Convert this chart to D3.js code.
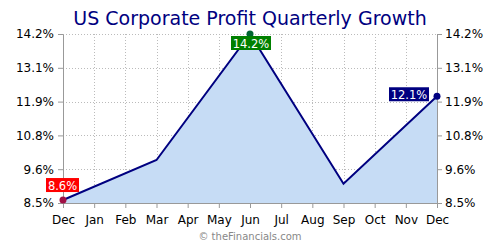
<!DOCTYPE html>
<html>
<head>
<meta charset="utf-8">
<script src="https://cdn.jsdelivr.net/npm/d3@7"></script>
<style>
  body { margin: 0; background: #fff; }
  text { font-family: "DejaVu Sans", Verdana, sans-serif; }
</style>
</head>
<body>
<svg id="chart" width="500" height="250"></svg>
<script>
// data
const months = ["Dec","Jan","Feb","Mar","Apr","May","Jun","Jul","Aug","Sep","Oct","Nov","Dec"];
const pointIdx = [0, 3, 6, 9, 12];
const pointVals = [8.6, 9.95, 14.2, 9.15, 12.1];
const yTicks = [8.5, 9.64, 10.78, 11.92, 13.06, 14.2];
const labelIdx = [0, 2, 4];
const labelColors = ["#ff0000", "#008000", "#000080"];
const markerColors = ["#a01045", "#006633", "#000080"];

const svg = d3.select('#chart');
const plotL = 63, plotR = 437, plotT = 34, plotB = 203;

const x = d3.scaleLinear().domain([0, 12]).range([plotL, plotR]);
const y = d3.scaleLinear().domain([8.5, 14.2]).range([plotB, plotT]);

svg.append('text')
  .attr('x', 250).attr('y', 25)
  .attr('text-anchor', 'middle')
  .attr('font-size', 19)
  .attr('fill', '#000080')
  .text('US Corporate Profit Quarterly Growth');

// grid
const grid = svg.append('g');
grid.selectAll('.hg').data(yTicks.slice(1)).enter().append('line')
  .attr('x1', plotL).attr('x2', plotR)
  .attr('y1', d => Math.round(y(d)) + 0.5).attr('y2', d => Math.round(y(d)) + 0.5)
  .attr('stroke', '#bbb').attr('stroke-dasharray', '1,2');
grid.selectAll('.vg').data(d3.range(1, 12)).enter().append('line')
  .attr('x1', d => Math.round(x(d)) + 0.5).attr('x2', d => Math.round(x(d)) + 0.5)
  .attr('y1', plotT).attr('y2', plotB)
  .attr('stroke', '#bbb').attr('stroke-dasharray', '1,2');

const pts = pointIdx.map((d, i) => [d, pointVals[i]]);

svg.append('path')
  .datum(pts)
  .attr('d', d3.area().x(d => x(d[0])).y0(plotB).y1(d => y(d[1])))
  .attr('fill', '#c6dcf5');

// axes
const fmt = d => d.toFixed(1) + '%';
const axL = svg.append('g').attr('transform', `translate(${plotL},0)`)
  .call(d3.axisLeft(y).tickValues(yTicks).tickFormat(fmt).tickSize(5).tickSizeOuter(0));
const axR = svg.append('g').attr('transform', `translate(${plotR},0)`)
  .call(d3.axisRight(y).tickValues(yTicks).tickFormat(fmt).tickSize(5).tickSizeOuter(0));
const axB = svg.append('g').attr('transform', `translate(0,${plotB})`)
  .call(d3.axisBottom(x).tickValues(d3.range(0, 13)).tickFormat(i => months[i]).tickSize(5).tickSizeOuter(0));
[axL, axR, axB].forEach(a => {
  a.selectAll('path,line').attr('stroke', '#999');
  a.selectAll('text').attr('font-size', 12).attr('fill', '#000')
    .style('font-family', '"DejaVu Sans", Verdana, sans-serif');
});
axL.selectAll('text').attr('dx', '-1');
axB.selectAll('text').attr('dy', '1.05em');

svg.append('path')
  .datum(pts)
  .attr('d', d3.line().x(d => x(d[0])).y(d => y(d[1])))
  .attr('fill', 'none').attr('stroke', '#000080').attr('stroke-width', 2);

// labelled points
const lab = labelIdx.map((k, i) => ({ p: pts[k], c: labelColors[i], m: markerColors[i], i }));
svg.selectAll('.mk').data(lab).enter().append('circle')
  .attr('cx', d => x(d.p[0])).attr('cy', d => y(d.p[1]))
  .attr('r', 3.5).attr('fill', d => d.m);

const g = svg.selectAll('.lb').data(lab).enter().append('g');
g.each(function(d) {
  const sel = d3.select(this);
  const txt = fmt(d.p[1]);
  const w = txt.length * 7 + 5, h = 14;
  let bx, by;
  const px = x(d.p[0]), py = y(d.p[1]);
  if (d.i === 0) { bx = px - 17; by = py - 22; }
  else if (d.i === 1) { bx = px - w / 2 + 1; by = py + 2; }
  else { bx = px - w - 8; by = py - 9; }
  sel.append('rect').attr('x', bx).attr('y', by).attr('width', w).attr('height', h).attr('fill', d.c);
  sel.append('text').attr('x', bx + w / 2).attr('y', by + 11.5)
    .attr('text-anchor', 'middle').attr('font-size', 11.5).attr('fill', '#fff').text(txt);
});

svg.append('text')
  .attr('x', 250).attr('y', 240)
  .attr('text-anchor', 'middle')
  .attr('font-size', 10)
  .attr('fill', '#888')
  .text('© theFinancials.com');
</script>
</body>
</html>
